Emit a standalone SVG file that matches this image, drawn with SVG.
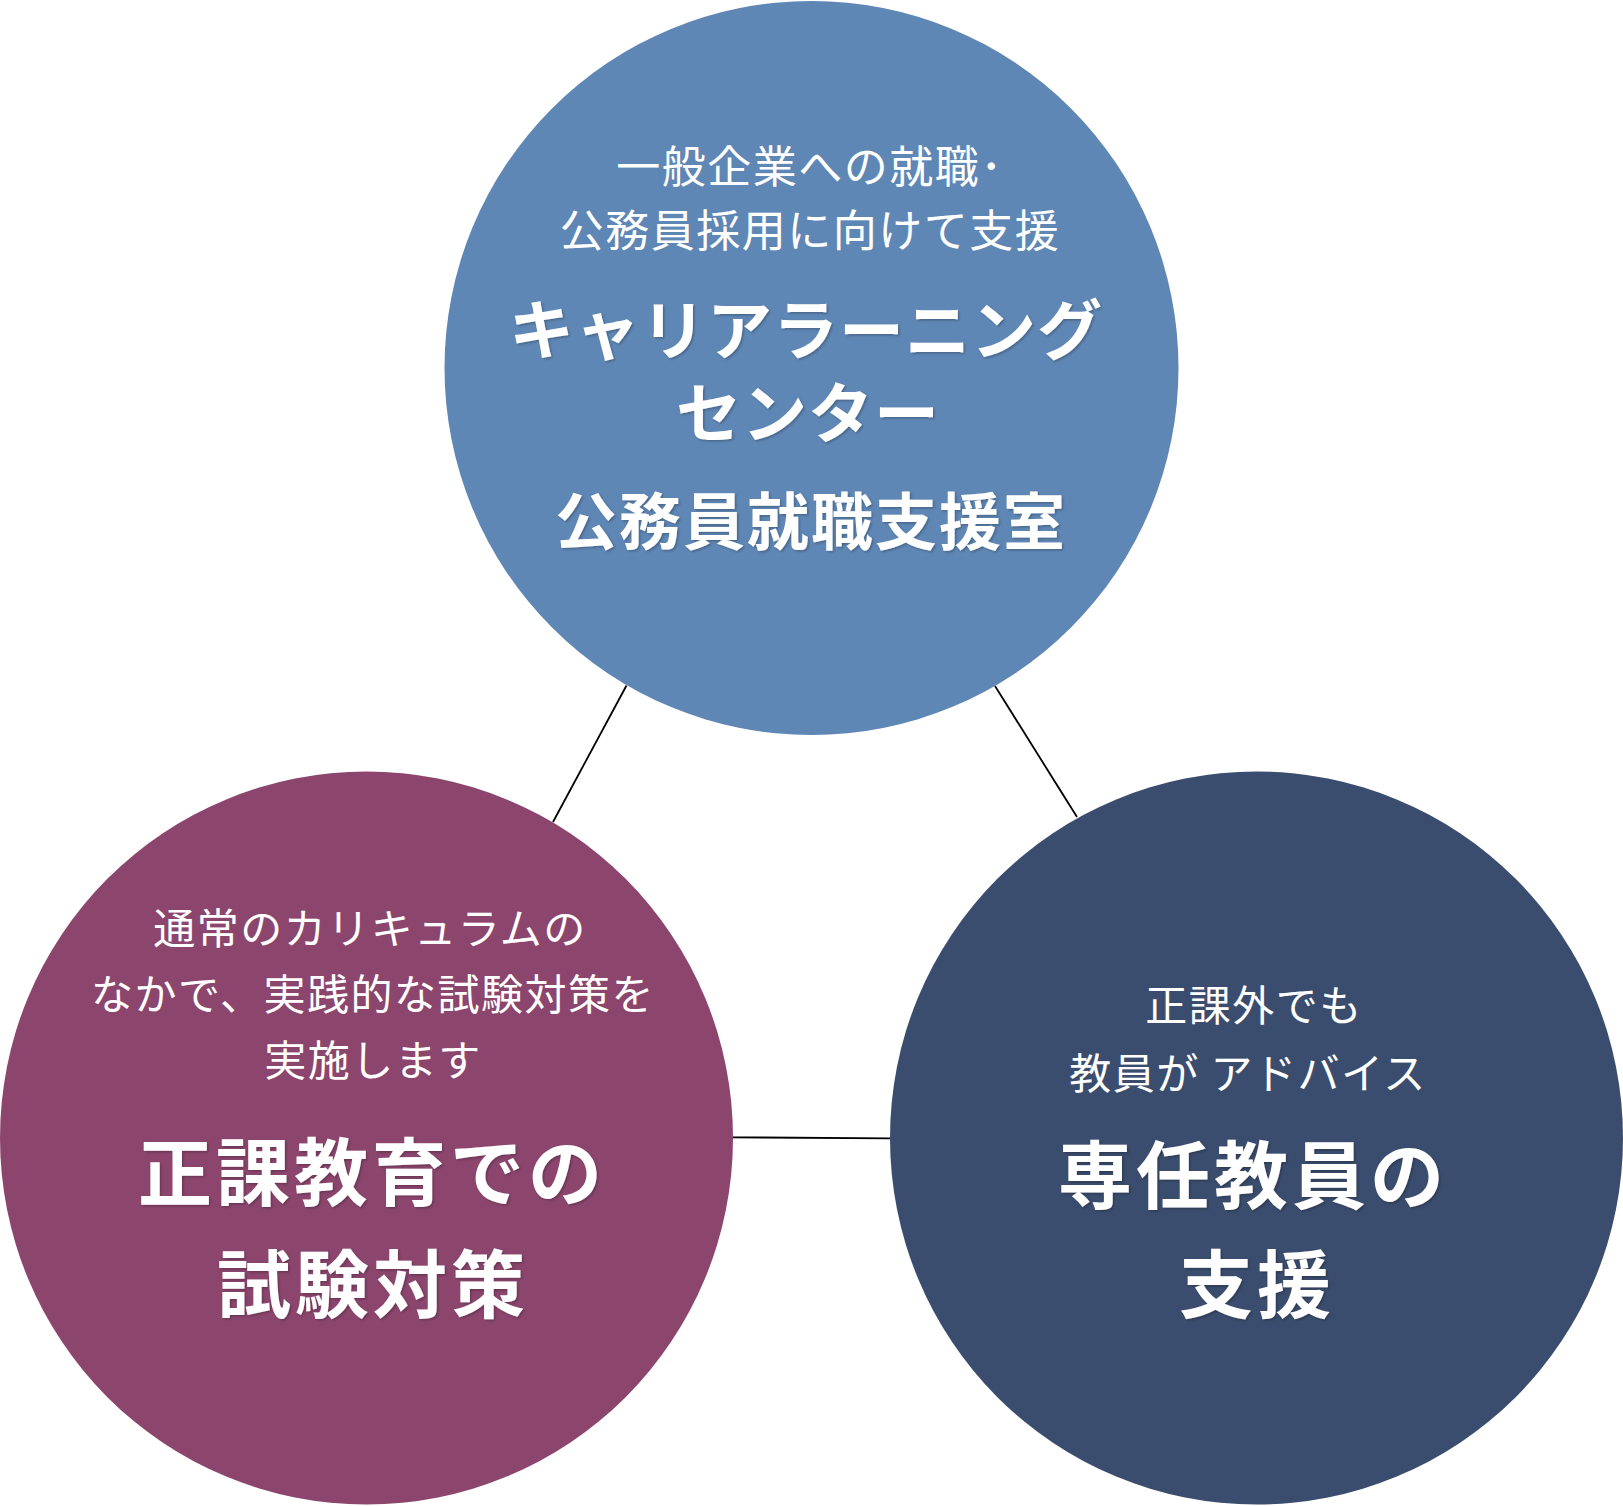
<svg xmlns="http://www.w3.org/2000/svg" width="1623" height="1506" viewBox="0 0 1623 1506">
  <defs>
    <filter id="shadow" x="-10%" y="-10%" width="120%" height="130%">
      <feDropShadow dx="1.5" dy="1.5" stdDeviation="0.8" flood-color="#000000" flood-opacity="0.25"/>
    </filter>
  </defs>
  <style>
    .t { font-family: "Noto Sans CJK JP", "Noto Sans CJK SC", sans-serif; fill: #ffffff; text-anchor: middle; }
    .sub { font-size: 42px; font-weight: 400; letter-spacing: 1.5px; }
    .title { font-weight: 700; filter: url(#shadow); }
    .conn { stroke: #000000; stroke-width: 1.8; fill: none; }
  </style>
  <rect width="1623" height="1506" fill="#ffffff"/>

  <g id="connectors">
    <line class="conn" x1="626.5" y1="685.5" x2="553" y2="822"/>
    <line class="conn" x1="995" y1="686" x2="1077" y2="817"/>
    <line class="conn" x1="733" y1="1137.3" x2="890" y2="1138.3"/>
  </g>

  <g id="node-career">
    <circle cx="811.5" cy="368" r="367" fill="#5F87B5"/>
    <text class="t sub" x="810" y="183" style="font-size:44px">一般企業への就職･</text>
    <text class="t sub" x="810" y="247" style="font-size:44px">公務員採用に向けて支援</text>
    <text class="t title" x="806" y="354" style="font-size:65px;letter-spacing:1px">キャリアラーニング</text>
    <text class="t title" x="808" y="437" style="font-size:65px;letter-spacing:1px">センター</text>
    <text class="t title" x="811" y="545" style="font-size:62px;letter-spacing:2px">公務員就職支援室</text>
  </g>

  <g id="node-curriculum">
    <circle cx="366.5" cy="1138" r="366.5" fill="#8C466E"/>
    <text class="t sub" x="370" y="944">通常のカリキュラムの</text>
    <text class="t sub" x="373" y="1010">なかで、実践的な試験対策を</text>
    <text class="t sub" x="373" y="1076">実施します</text>
    <text class="t title" x="372" y="1200" style="font-size:74px;letter-spacing:4px">正課教育での</text>
    <text class="t title" x="373" y="1312" style="font-size:74px;letter-spacing:4px">試験対策</text>
  </g>

  <g id="node-faculty">
    <circle cx="1256.5" cy="1138" r="366.5" fill="#3B4D6E"/>
    <text class="t sub" x="1254" y="1021">正課外でも</text>
    <text class="t sub" x="1248" y="1089">教員が アドバイス</text>
    <text class="t title" x="1253" y="1203" style="font-size:74px;letter-spacing:4px">専任教員の</text>
    <text class="t title" x="1257" y="1312" style="font-size:74px;letter-spacing:4px">支援</text>
  </g>
</svg>
